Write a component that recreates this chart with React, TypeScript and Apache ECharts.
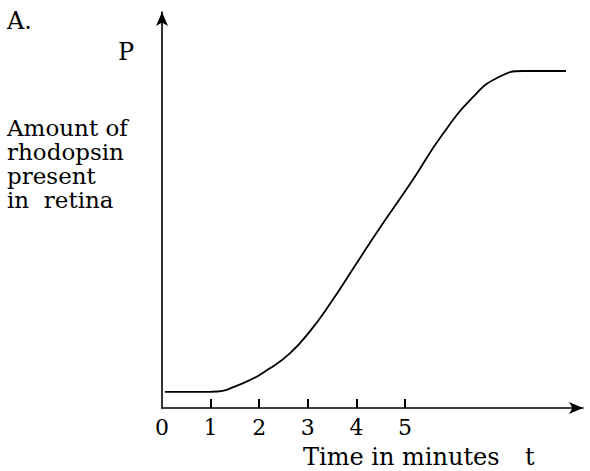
import React, { useEffect, useRef } from "react";
import * as echarts from "echarts";

// Time in minutes (x) and amount of rhodopsin (y, relative units; plateau = 100)
const timeMinutes = [0.06, 0.98, 1.67, 2.22, 2.63, 3.05, 3.46, 4.01, 4.49, 5.16, 5.75, 6.4, 6.89, 7.43, 8.31];
const rhodopsin = [4.8, 4.8, 7.4, 11.8, 16.2, 22.9, 31.0, 43.1, 53.6, 67.7, 80.8, 92.3, 97.9, 100, 100];
const tickValues = [1, 2, 3, 4, 5];
const labelValues = [0, 1, 2, 3, 4, 5];
const yLabelLines = ["Amount of", "rhodopsin", "present", "in\u00a0\u00a0retina"];

const FONT = "DejaVu Serif";

export default function App() {
  const ref = useRef<HTMLDivElement>(null);
  useEffect(() => {
    if (!ref.current) return;
    const chart = echarts.init(ref.current, null, { renderer: "svg" });
    const data = timeMinutes.map((t, i) => [t, rhodopsin[i]]);
    chart.setOption({
      animation: false,
      backgroundColor: "#fff",
      grid: { left: 162, right: 7, top: 12, bottom: 63 },
      xAxis: {
        type: "value",
        min: 0,
        max: 8.66,
        interval: 1,
        axisLine: {
          show: true,
          symbol: ["none", "arrow"],
          symbolSize: [9, 14],
          lineStyle: { color: "#000", width: 1.6 },
        },
        axisTick: {
          show: true,
          inside: true,
          length: 9,
          customValues: tickValues,
          lineStyle: { color: "#000", width: 2 },
        },
        axisLabel: {
          show: true,
          customValues: labelValues,
          fontFamily: FONT,
          fontSize: 22,
          color: "#000",
          margin: 8,
        },
        splitLine: { show: false },
      },
      yAxis: {
        type: "value",
        min: 0,
        max: 117.5,
        axisLine: {
          show: true,
          symbol: ["none", "arrow"],
          symbolSize: [9, 14],
          lineStyle: { color: "#000", width: 1.6 },
        },
        axisTick: { show: false },
        axisLabel: { show: false },
        splitLine: { show: false },
      },
      series: [
        {
          type: "line",
          data,
          showSymbol: false,
          smooth: 0.5,
          lineStyle: { color: "#000", width: 1.8 },
        },
      ],
      graphic: [
        {
          type: "text",
          x: 7,
          y: 21,
          style: { text: "A.", font: `24px "${FONT}"`, fill: "#000", verticalAlign: "middle" },
        },
        {
          type: "text",
          x: 118,
          y: 52,
          style: { text: "P", font: `24px "${FONT}"`, fill: "#000", verticalAlign: "middle" },
        },
        {
          type: "text",
          x: 7,
          y: 116,
          style: {
            text: yLabelLines.join("\n"),
            font: `23px "${FONT}"`,
            lineHeight: 24,
            fill: "#000",
            verticalAlign: "top",
          },
        },
        {
          type: "text",
          x: 303,
          y: 457,
          style: { text: "Time in minutes", font: `24px "${FONT}"`, fill: "#000", verticalAlign: "middle" },
        },
        {
          type: "text",
          x: 525,
          y: 457,
          style: { text: "t", font: `24px "${FONT}"`, fill: "#000", verticalAlign: "middle" },
        },
      ],
    });
    return () => chart.dispose();
  }, []);
  return (
    <div
      ref={ref}
      style={{ position: "fixed", left: 0, top: 0, width: 590, height: 471 }}
    />
  );
}
